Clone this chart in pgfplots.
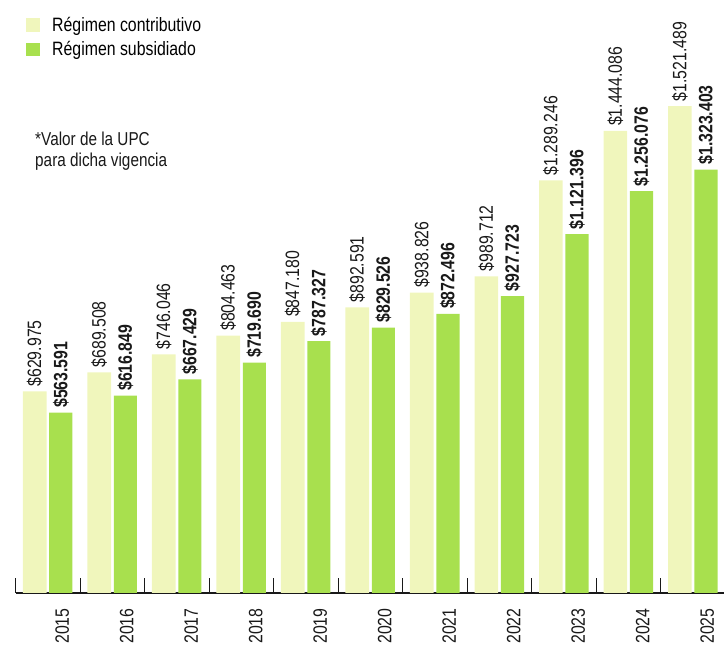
\documentclass[border=0pt]{standalone}
\usepackage{fontspec}
\setmainfont{Liberation Sans}[FakeStretch=0.82]
\usepackage{pgfplots}
\pgfplotsset{compat=1.18}
\definecolor{lightc}{RGB}{240,246,188}
\definecolor{greenc}{RGB}{168,224,78}
\definecolor{txt}{RGB}{25,25,25}
\begin{document}
\begin{tikzpicture}
\useasboundingbox (0,0) rectangle (543pt,486pt);
\begin{axis}[
  at={(11.775pt,41.25pt)}, anchor=south west,
  scale only axis, width=531.2pt, height=444.75pt,
  xmin=-0.5, xmax=10.48, ymin=0, ymax=1853125,
  enlargelimits=false, clip=false,
  axis x line=bottom, axis y line=none,
  x axis line style={-, line width=0.8pt, color=txt},
  xtick={0.22,1.22,...,10.22},
  xticklabels={2015,2016,2017,2018,2019,2020,2021,2022,2023,2024,2025},
  major tick length=0pt,
  x tick label style={rotate=90, anchor=east, font=\fontsize{14.5}{16}\selectfont, text=txt},
  xticklabel shift=8pt,
  extra x ticks={-0.5,0.5,...,9.5},
  extra x tick labels={},
  extra x tick style={tick align=inside, major tick length=11.25pt, tick style={line width=0.8pt, color=txt}},
  ybar,
  point meta=explicit symbolic,
  nodes near coords={\$\pgfplotspointmeta},
  nodes near coords style={rotate=90, anchor=west, inner xsep=3.5pt, inner ysep=0pt, text=txt, font=\fontsize{14.5}{16}\selectfont},
  legend image code/.code={\fill[#1] (0pt,-4.9pt) rectangle (10.5pt,4.9pt);},
  legend style={at={(axis description cs:0.0145,0.972)}, anchor=north west, draw=none, fill=none,
    inner sep=0pt, row sep=6.5pt, nodes={inner xsep=2pt, inner ysep=0pt}, font=\fontsize{14.5}{16}\selectfont,
    /tikz/every odd column/.append style={column sep=7pt}},
  legend cell align=left,
]
\addplot[fill=lightc, draw=none, bar width=0.365, bar shift=-0.205] coordinates {
(0,629975) [629.975]
(1,689508) [689.508]
(2,746046) [746.046]
(3,804463) [804.463]
(4,847180) [847.180]
(5,892591) [892.591]
(6,938826) [938.826]
(7,989712) [989.712]
(8,1289246) [1.289.246]
(9,1444086) [1.444.086]
(10,1521489) [1.521.489]
};
\addlegendentry{Régimen contributivo}
\addplot[fill=greenc, draw=none, bar width=0.36, bar shift=0.2,
  every node near coord/.append style={font=\fontsize{14.5}{16}\selectfont\bfseries}] coordinates {
(0,563591) [563.591]
(1,616849) [616.849]
(2,667429) [667.429]
(3,719690) [719.690]
(4,787327) [787.327]
(5,829526) [829.526]
(6,872496) [872.496]
(7,927723) [927.723]
(8,1121396) [1.121.396]
(9,1256076) [1.256.076]
(10,1323403) [1.323.403]
};
\addlegendentry{Régimen subsidiado}
\node[anchor=north west, align=left, inner sep=0pt, text=txt, font=\fontsize{14}{15.75}\selectfont]
  at (axis description cs:0.0272,0.778) {*Valor de la UPC\\para dicha vigencia};
\end{axis}
\end{tikzpicture}
\end{document}
